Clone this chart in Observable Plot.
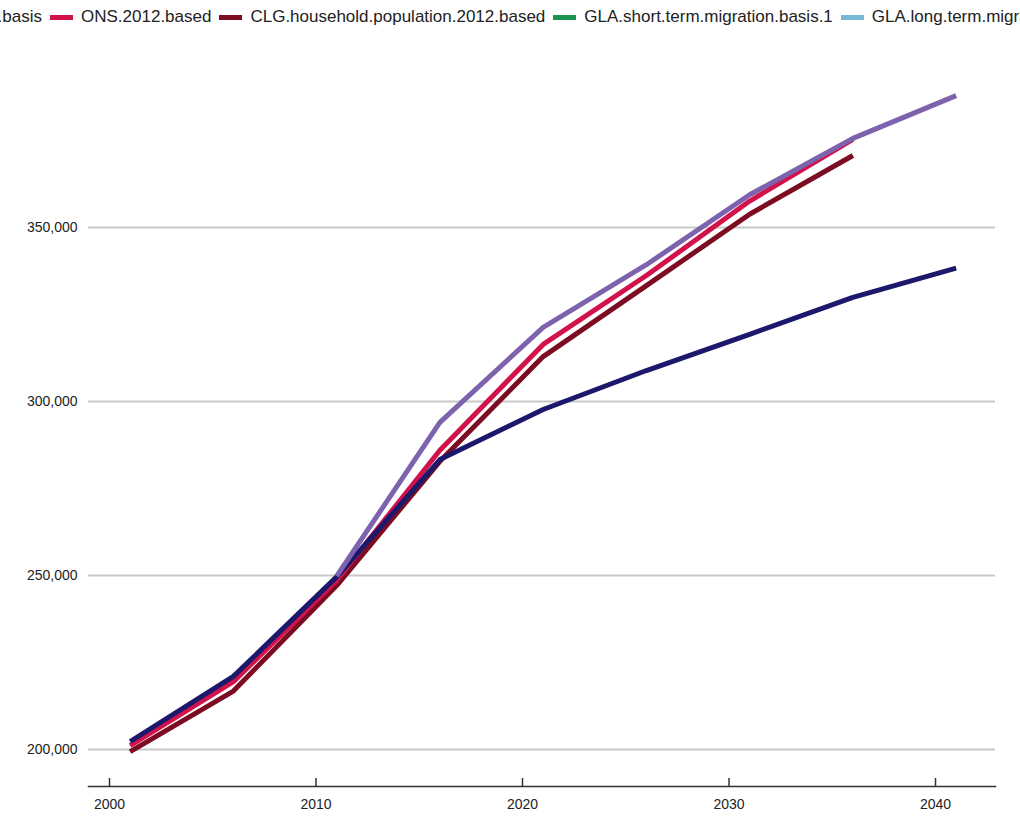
<!DOCTYPE html>
<html>
<head>
<meta charset="utf-8">
<script src="https://cdn.jsdelivr.net/npm/d3@7"></script>
<script src="https://cdn.jsdelivr.net/npm/@observablehq/plot@0.6"></script>
<style>
  html, body { margin: 0; padding: 0; background: #fff; overflow: hidden; }
  body { width: 1020px; height: 816px; position: relative; font-family: "Liberation Sans", Arial, sans-serif; }
  #legend { position: absolute; top: 7px; left: 0; white-space: nowrap; display: flex; align-items: center; font-size: 17px; color: #222; z-index: 2; }
  .item { display: flex; align-items: center; margin-right: 8px; }
  .sw { width: 23px; height: 5px; margin-right: 8px; }
  #chart { position: absolute; top: 0; left: 0; }
</style>
</head>
<body>
<div id="legend"></div>
<div id="chart"></div>
<script>
// ---- data ----
const seriesNames = [
  "GLA.central.trend.migration.basis",
  "ONS.2012.based",
  "CLG.household.population.2012.based",
  "GLA.short.term.migration.basis.1",
  "GLA.long.term.migration.basis.1",
  "GLA.high.migration.basis"
];
const seriesColors = ["#1c186b", "#d2124b", "#7c0c21", "#1a9551", "#7ab6d6", "#7d62ad"];

const years = [2001, 2006, 2011, 2016, 2021, 2026, 2031, 2036, 2041];
const glaCentralValues = [202300, 221000, 249600, 283300, 297700, 308900, 319300, 329900, 338300];
const onsValues        = [201100, 219500, 248600, 286000, 316400, 336200, 357600, 375300, null];
const clgValues        = [199400, 216800, 247100, 282800, 312900, 333300, 353800, 370700, null];
const glaHighValues    = [null, null, 249800, 294000, 321300, 339300, 359400, 375600, 387900];

const xTicks = [2000, 2010, 2020, 2030, 2040];
const yTicks = [200000, 250000, 300000, 350000];

// draw order: CLG, ONS, central, high
const drawn = [
  [seriesNames[2], clgValues],
  [seriesNames[1], onsValues],
  [seriesNames[0], glaCentralValues],
  [seriesNames[5], glaHighValues]
];
const data = [];
for (const [name, vals] of drawn) {
  vals.forEach((v, i) => { if (v != null) data.push({series: name, year: years[i], value: v}); });
}

const marginTop = 40, marginBottom = 30, H = 816;
const frameH = H - marginTop - marginBottom;

const plot = Plot.plot({
  width: 1020,
  height: H,
  marginLeft: 88,
  marginRight: 25,
  marginTop,
  marginBottom,
  style: {fontFamily: "'Liberation Sans', Arial, sans-serif", fontSize: "14px", color: "#222", background: "#fff"},
  x: {domain: [2000, 2040], range: [109, 935]},
  y: {domain: [200000, 350000], range: [749, 227]},
  color: {domain: seriesNames, range: seriesColors},
  marks: [
    Plot.ruleY(yTicks, {stroke: "#c8c8c8", strokeWidth: 2}),
    Plot.axisY({ticks: yTicks, tickSize: 0, tickPadding: 11, tickFormat: d3.format(","), label: null, fontSize: 14}),
    Plot.frame({anchor: "bottom", stroke: "#333", strokeWidth: 1.5}),
    Plot.ruleX(xTicks, {insetTop: frameH - 8, stroke: "#333", strokeWidth: 1.5}),
    Plot.axisX({ticks: xTicks, tickSize: 0, tickPadding: 13, tickFormat: d => String(d), label: null, fontSize: 14}),
    Plot.line(data, {x: "year", y: "value", z: "series", stroke: "series", strokeWidth: 5, strokeLinejoin: "round", strokeLinecap: "butt"})
  ]
});
document.getElementById("chart").appendChild(plot);

// legend
const legend = document.getElementById("legend");
seriesNames.forEach((n, i) => {
  const it = document.createElement("div");
  it.className = "item";
  const sw = document.createElement("div");
  sw.className = "sw";
  sw.style.background = seriesColors[i];
  const t = document.createElement("span");
  t.textContent = n;
  it.appendChild(sw); it.appendChild(t);
  legend.appendChild(it);
});
// align so that the second swatch starts at x = 50
const second = legend.children[1].firstChild;
const off = second.getBoundingClientRect().left - legend.getBoundingClientRect().left;
legend.style.left = (50 - off) + "px";
</script>
</body>
</html>
